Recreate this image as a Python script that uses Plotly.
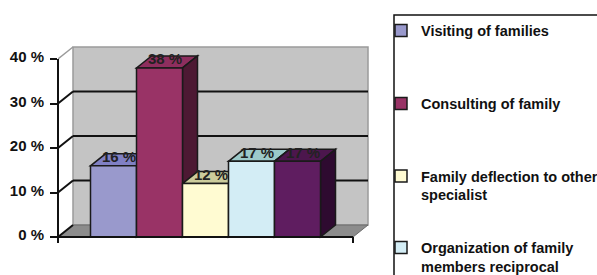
import plotly.graph_objects as go

# ---------------- data ----------------
categories = ["Visiting of families", "Consulting of family",
              "Family deflection to other specialist",
              "Organization of family members reciprocal", "Other"]
legend_labels = ["Visiting of families", "Consulting of family",
                 "Family deflection to other<br>specialist",
                 "Organization of family<br>members reciprocal", "Other"]
values = [16, 38, 12, 17, 17]
value_labels = ["16 %", "38 %", "12 %", "17 %", "17 %"]
tick_vals = [0, 10, 20, 30, 40]
tick_text = ["0 %", "10 %", "20 %", "30 %", "40 %"]

# ---------------- style ----------------
front_colors = ["#9999CC", "#993366", "#FFFBD2", "#D3EDF5", "#5F1D60"]
top_colors = ["#8080C4", "#8E2E5E", "#CCCC9C", "#9CCACA", "#4C164D"]
side_colors = ["#5C5C8C", "#4D1933", "#A0A070", "#6E9A9A", "#2E0A30"]
FONT = "Liberation Sans, Arial, sans-serif"

PX_X = 46.0          # pixels per category
PX_Y = 4.45          # pixels per percent
DX = 15 / PX_X       # depth offset (x, data units)
DY = 12 / PX_Y       # depth offset (y, data units)
GAP = 0.7065
X0 = -0.5 - GAP
XF = len(values) - 0.5 + GAP
XB = XF + DX
YMAX = tick_vals[-1]

L, R, T, B = 58, 370, 45, 245
W, H = 597, 275
x_range = [X0, X0 + (R - L) / PX_X]
y_range = [-(B - 237) / PX_Y, (237 - T) / PX_Y]

fig = go.Figure()

for i, (name, v) in enumerate(zip(legend_labels, values)):
    fig.add_trace(go.Bar(
        x=[i], y=[v], width=1, name=name,
        marker=dict(color=front_colors[i], line=dict(color="#1a1a1a", width=1.5)),
        showlegend=(i < 4),
        legend=("legend" if i == 0 else f"legend{i+1}") if i < 4 else None,
        hoverinfo="skip",
    ))

shapes = []
# back wall
shapes.append(dict(type="rect", xref="x", yref="y", layer="below",
                   x0=X0 + DX, x1=XB, y0=DY, y1=YMAX + DY,
                   fillcolor="#C4C4C4", line=dict(color="#9a9a9a", width=1.5)))
# floor
shapes.append(dict(type="path", xref="x", yref="y", layer="below",
                   path=f"M{X0},0 L{X0+DX},{DY} L{XB},{DY} L{XF},0 Z",
                   fillcolor="#8C8C8C", line=dict(color="#6a6a6a", width=1)))
# gridlines on back wall + left wall
for t in tick_vals[1:-1]:
    shapes.append(dict(type="line", xref="x", yref="y", layer="below",
                       x0=X0 + DX, x1=XB, y0=t + DY, y1=t + DY,
                       line=dict(color="#111111", width=2)))
for t in tick_vals:
    col = "#9a9a9a" if t == YMAX else "#111111"
    shapes.append(dict(type="line", xref="x", yref="y", layer="below",
                       x0=X0, x1=X0 + DX, y0=t, y1=t + DY,
                       line=dict(color=col, width=1.5 if t == YMAX else 2)))
# top and side faces of the bars
for i, v in enumerate(values):
    xl, xr = i - 0.5, i + 0.5
    shapes.append(dict(type="path", xref="x", yref="y", layer="below",
                       path=f"M{xl},{v} L{xr},{v} L{xr+DX},{v+DY} L{xl+DX},{v+DY} Z",
                       fillcolor=top_colors[i], line=dict(color="#1a1a1a", width=1.5)))
    shapes.append(dict(type="path", xref="x", yref="y", layer="below",
                       path=f"M{xr},0 L{xr+DX},{DY} L{xr+DX},{v+DY} L{xr},{v} Z",
                       fillcolor=side_colors[i], line=dict(color="#1a1a1a", width=1.5)))
# front axis lines and end ticks
tick_len = 6 / PX_Y
shapes.append(dict(type="line", xref="x", yref="y", x0=X0, x1=XF, y0=0, y1=0,
                   line=dict(color="#111111", width=2)))
shapes.append(dict(type="line", xref="paper", yref="y", x0=0, x1=0, y0=-tick_len, y1=YMAX,
                   line=dict(color="#111111", width=2)))
shapes.append(dict(type="line", xref="x", yref="y", x0=XF, x1=XF, y0=-tick_len, y1=0,
                   line=dict(color="#111111", width=2)))
# legend frame
shapes.append(dict(type="rect", xref="paper", yref="paper",
                   x0=(394 - L) / (R - L), x1=(600 - L) / (R - L),
                   y0=(B - 285) / (B - T), y1=(B - 15) / (B - T),
                   line=dict(color="#111111", width=1.5), fillcolor="rgba(0,0,0,0)"))

annotations = []
for i, (v, lab) in enumerate(zip(values, value_labels)):
    annotations.append(dict(x=i, y=v, xref="x", yref="y", text=lab, showarrow=False,
                            xshift=5, yshift=9, yanchor="middle", xanchor="center",
                            font=dict(family=FONT, size=15, color="#222222", weight="bold")))

legend_tops = [14.5, 87.5, 160, 231.5]
lx = (381 - L) / (R - L)
leg_common = dict(x=lx, xanchor="left", yanchor="top", bgcolor="rgba(0,0,0,0)",
                  borderwidth=0, valign="top",
                  font=dict(family=FONT, size=14.5, color="#111111", weight="bold"))
legends = {}
for k, top in enumerate(legend_tops):
    key = "legend" if k == 0 else f"legend{k+1}"
    legends[key] = dict(leg_common, y=(B - top) / (B - T))

fig.update_layout(
    width=W, height=H, autosize=False,
    margin=dict(l=L, r=W - R, t=T, b=H - B, pad=0, autoexpand=False),
    paper_bgcolor="white", plot_bgcolor="white",
    barmode="overlay",
    shapes=shapes, annotations=annotations,
    xaxis=dict(range=x_range, showgrid=False, zeroline=False, showline=False,
               showticklabels=False, ticks="", fixedrange=True),
    yaxis=dict(range=y_range, showgrid=False, zeroline=False, showline=False,
               tickvals=tick_vals, ticktext=tick_text, ticks="outside",
               ticklen=7, tickwidth=2, tickcolor="#111111",
               ticklabelstandoff=3, ticklabelshift=-2,
               tickfont=dict(family=FONT, size=15, color="#111111", weight="bold"),
               fixedrange=True),
    **legends,
)

fig.write_html("out.html", config={"displayModeBar": False},
               post_script="document.body.style.margin='0';document.body.style.overflow='hidden';")
